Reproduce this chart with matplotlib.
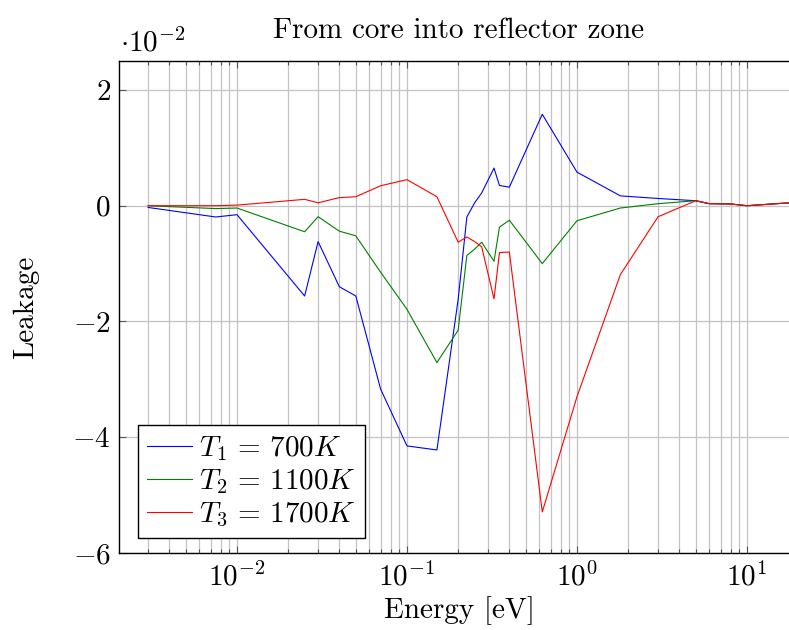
import matplotlib
matplotlib.use("Agg")
import matplotlib.pyplot as plt
from matplotlib.ticker import FixedLocator, FixedFormatter, NullFormatter, LogLocator

plt.rcParams['font.family'] = 'serif'
plt.rcParams['font.serif'] = ['cmr10', 'DejaVu Serif']
plt.rcParams['mathtext.fontset'] = 'cm'
plt.rcParams['axes.formatter.use_mathtext'] = True

# Energy group points [eV]
energy = [0.003, 0.0075, 0.01, 0.025, 0.03, 0.04, 0.05, 0.07, 0.1, 0.15, 0.2,
          0.225, 0.25, 0.275, 0.325, 0.35, 0.4, 0.625, 1.0, 1.8, 3.0, 5.0,
          6.0, 8.0, 10.0, 20.0]

# Leakage values in units of 1e-2
leak_700 = [-0.03, -0.195, -0.155, -1.56, -0.62, -1.40, -1.56, -3.17, -4.15,
            -4.22, -1.62, -0.195, 0.05, 0.22, 0.65, 0.35, 0.32, 1.58, 0.58,
            0.17, 0.125, 0.086, 0.035, 0.03, 0.0, 0.06]
leak_1100 = [0.0, -0.05, -0.04, -0.45, -0.19, -0.44, -0.52, -1.15, -1.79,
             -2.71, -2.15, -0.86, -0.75, -0.63, -0.96, -0.37, -0.25, -1.0,
             -0.26, -0.04, 0.035, 0.086, 0.035, 0.03, 0.0, 0.06]
leak_1700 = [0.0, 0.0, 0.01, 0.11, 0.05, 0.14, 0.155, 0.345, 0.45, 0.155,
             -0.63, -0.54, -0.62, -0.71, -1.61, -0.81, -0.80, -5.29, -3.3,
             -1.19, -0.19, 0.086, 0.035, 0.03, 0.0, 0.06]

labels = [r'$T_1 \,=\, 700K$', r'$T_2 \,=\, 1100K$', r'$T_3 \,=\, 1700K$']
colors = ['#0000ff', '#008000', '#ff0000']

y_ticks = [-6, -4, -2, 0, 2]
y_ticklabels = [r'$-6$', r'$-4$', r'$-2$', r'$0$', r'$2$']
x_ticks = [1e-2, 1e-1, 1e0, 1e1]
x_ticklabels = [r'$10^{-2}$', r'$10^{-1}$', r'$10^{0}$', r'$10^{1}$']

FS = 21

fig = plt.figure(figsize=(7.89, 6.30), dpi=100)
ax = fig.add_axes([119/789, 77/630, 680/789, 492/630])

for ys, lab, c in zip([leak_700, leak_1100, leak_1700], labels, colors):
    ax.plot(energy, ys, color=c, lw=0.8, label=lab)

ax.set_xscale('log')
ax.set_xlim(10**-2.694, 10**1.306)
ax.set_ylim(-6, 2.5)

ax.xaxis.set_major_locator(FixedLocator(x_ticks))
ax.xaxis.set_major_formatter(FixedFormatter(x_ticklabels))
ax.xaxis.set_minor_locator(LogLocator(base=10, subs=range(2, 10), numticks=20))
ax.xaxis.set_minor_formatter(NullFormatter())
ax.yaxis.set_major_locator(FixedLocator(y_ticks))
ax.yaxis.set_major_formatter(FixedFormatter(y_ticklabels))

ax.grid(True, which='major', color='#c4c4c4', lw=0.9)
ax.grid(True, which='minor', axis='x', color='#c4c4c4', lw=0.9)
ax.set_axisbelow(True)

ax.spines['right'].set_visible(False)
ax.tick_params(which='both', direction='in', top=True, right=False,
               labelsize=FS, color='#555555')
ax.tick_params(which='major', length=5, width=0.8)
ax.tick_params(which='minor', length=3, width=0.8)
ax.tick_params(axis='x', pad=7)
ax.tick_params(axis='y', pad=6)
for s in ax.spines.values():
    s.set_linewidth(1.0)
    s.set_color('black')

ax.set_title('From core into reflector zone', fontsize=FS, pad=16.5)
ax.set_xlabel('Energy [eV]', fontsize=FS, labelpad=3)
ax.set_ylabel('Leakage', fontsize=FS, labelpad=0)
ax.yaxis.set_label_coords(-(119 - 39) / 680, 0.5)
fig.text(120/789, 1 - 52/630, r'$\cdot 10^{-2}$', fontsize=FS, va='baseline', ha='left')

leg = ax.legend(loc='lower left', bbox_to_anchor=(0.028, 0.031), borderaxespad=0,
                fancybox=False, edgecolor='black', fontsize=FS, handlelength=1.55,
                handletextpad=0.25, labelspacing=0.15, borderpad=0.3,
                framealpha=1)
leg.get_frame().set_linewidth(1.0)

fig.savefig('out.png', dpi=100)
